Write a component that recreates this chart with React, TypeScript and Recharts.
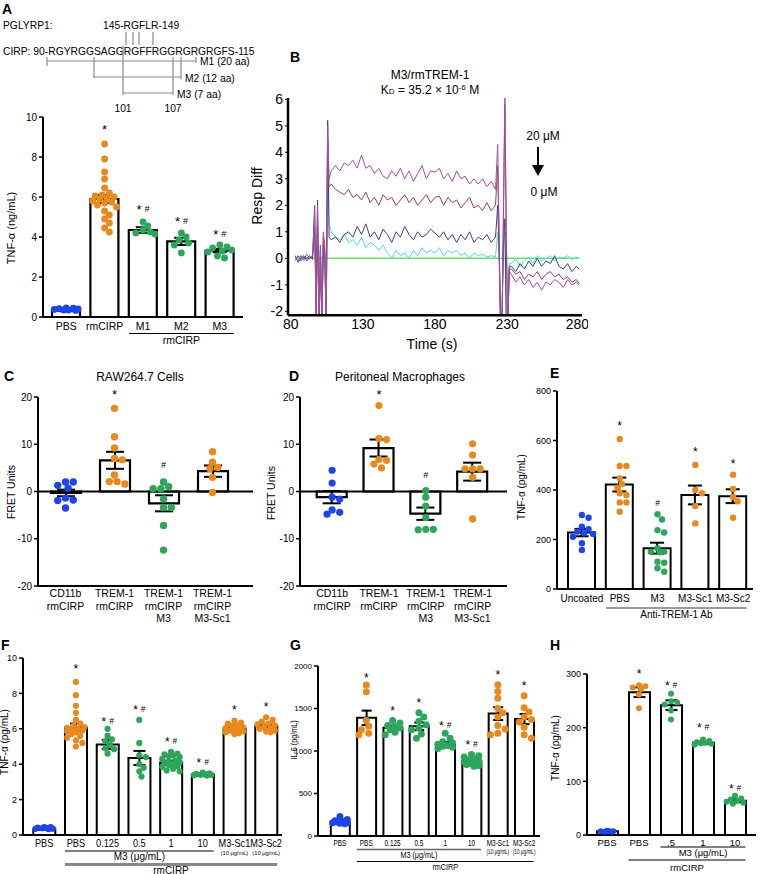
import React from "react";
import {
  ComposedChart,
  LineChart,
  Line,
  Bar,
  ErrorBar,
  Scatter,
  XAxis,
  YAxis,
  ReferenceLine,
  ReferenceDot,
} from "recharts";

const FF = "'Liberation Sans', Arial, Helvetica, sans-serif";
const BLUE = "#1f45e6";
const ORANGE = "#e8891e";
const GREEN = "#2ea55c";

// ---- A: TNF-a, peptides M1-M3 ----
const aCats = [["PBS"], ["rmCIRP"], ["M1"], ["M2"], ["M3"]];
const aMean = [0.32, 5.9, 4.35, 3.78, 3.32];
const aSem = [0.03, 0.2, 0.14, 0.18, 0.08];
const aPts = [
  [0.45, 0.42, 0.38, 0.35, 0.33, 0.35, 0.4, 0.44],
  [8.65, 7.9, 7.25, 6.9, 6.45, 6.2, 6.1, 6.05, 6.0, 5.95, 5.9, 5.8, 5.75, 5.7, 5.6, 5.5, 5.3, 5.1, 4.9, 4.7, 4.45, 4.25],
  [4.75, 4.55, 4.35, 4.25, 4.2, 4.15],
  [4.2, 4.0, 3.85, 3.7, 3.6, 3.2],
  [3.6, 3.5, 3.45, 3.35, 3.3, 3.25, 3.05, 2.95],
];
const aMarks: [number, number, string][] = [[1, 9.5, "*"], [2, 5.5, "*#"], [3, 4.9, "*#"], [4, 4.27, "*#"]];

// ---- B: SPR sensorgram ----
const bTime = [
  83, 85, 87, 89, 91, 93, 95,
  96.5, 97.5, 98.5, 99.5, 100.5, 101.5, 102.5, 103.5, 104.5, 105.5, 106.5,
  108, 111, 114, 117, 120, 123, 126, 129, 132, 135, 138, 141, 144, 147, 150, 153, 156, 159, 162, 165,
  168, 171, 174, 177, 180, 183, 186, 189, 192, 195, 198, 201, 204, 207, 210, 213, 216, 219, 222,
  223.5, 224.5, 225.5, 226.5, 227.5, 228.5, 229.5, 230.5, 231.5,
  233, 236, 239, 242, 245, 248, 251, 254, 257, 260, 263, 266, 269, 272, 275, 278, 280,
];
const bPurple = [
  0.0, -0.1, 0.1, -0.05, 0.15, 0.0, 0.1,
  1.8, -2.6, 2.0, -2.6, 0.5, -2.6, 1.0, 0.5, -2.6, 5.0, 3.0,
  3.3, 3.5, 3.3, 3.6, 3.5, 3.7, 3.4, 3.9, 3.4, 3.5, 3.2, 3.4, 3.1, 3.0, 3.3, 3.1, 3.4, 3.0, 3.3, 2.9,
  3.2, 3.5, 3.0, 3.3, 3.25, 3.4, 3.0, 3.2, 2.9, 3.3, 3.0, 3.1, 2.8, 3.0, 2.8, 3.0, 2.7, 2.9, 2.6,
  4.3, 1.0, -2.6, -2.6, 2.0, 6.2, 1.0, -2.6, -0.5,
  -0.6, -0.9, -0.7, -1.0, -0.8, -1.1, -0.9, -1.2, -0.9, -1.0, -0.8, -0.9, -1.1, -0.8, -1.0, -0.9, -1.0,
];
const bBrown = [
  -0.05, 0.1, -0.1, 0.05, 0.0, 0.1, -0.05,
  2.0, -2.6, 1.5, -2.6, 0.3, -2.6, 0.8, 0.3, -2.6, 4.5, 2.7,
  2.8, 2.6, 2.5, 2.4, 2.6, 2.3, 2.4, 2.2, 2.5, 2.1, 2.3, 2.0, 2.4, 2.2, 2.3, 2.0, 2.2, 2.4, 2.1, 2.3,
  2.0, 2.2, 2.4, 2.1, 2.3, 2.35, 2.0, 2.3, 2.1, 2.2, 1.9, 2.1, 2.3, 1.9, 2.0, 1.8, 2.1, 1.8, 2.0,
  3.5, 0.5, -2.6, -2.6, 1.5, 5.8, 0.5, -2.6, -0.4,
  -0.4, -0.6, -0.5, -0.8, -0.6, -0.7, -0.5, -0.8, -0.6, -0.5, -0.7, -0.6, -0.8, -0.7, -0.9, -0.8, -0.95,
];
const bNavy = [
  0.1, -0.15, 0.0, 0.1, -0.1, 0.05, 0.0,
  1.2, -1.5, 2.2, -2.6, 0.5, -2.6, 0.5, 0.2, -2.6, 5.2, 0.8,
  0.7, 0.8, 0.6, 0.9, 1.0, 0.8, 1.2, 0.9, 1.3, 0.8, 1.0, 0.7, 1.1, 0.9, 0.6, 1.0, 0.8, 1.2, 0.9, 0.7,
  1.0, 0.8, 0.9, 1.1, 0.95, 0.8, 1.0, 0.7, 0.9, 0.6, 0.9, 0.7, 1.0, 0.6, 0.8, 0.7, 0.9, 0.6, 0.8,
  2.0, 0.2, -2.6, -2.0, 0.5, 1.5, -2.6, -2.6, -0.3,
  -0.3, -0.5, -0.2, -0.4, -0.1, -0.3, 0.0, -0.3, -0.1, -0.2, 0.1, -0.3, -0.4, -0.2, -0.5, -0.3, -0.4,
];
const bCyan = [
  -0.1, 0.05, 0.1, -0.1, 0.05, -0.05, 0.1,
  0.8, -1.0, 1.5, -2.0, 0.3, -2.6, 0.5, 0.2, -2.6, 5.2, 1.3,
  1.0, 0.8, 0.7, 0.9, 0.6, 0.7, 0.5, 0.8, 0.4, 0.6, 0.5, 0.3, 0.5, 0.2, 0.0, 0.3, 0.1, 0.2, 0.0, 0.3,
  0.1, 0.4, 0.2, 0.3, 0.2, 0.4, 0.1, 0.3, 0.2, 0.3, 0.1, 0.2, 0.0, 0.2, 0.1, 0.15, 0.05, 0.1, 0.05,
  1.0, 0.0, -2.0, -2.6, 0.3, 1.0, -2.6, -2.6, -0.2,
  -0.2, 0.0, -0.3, -0.1, 0.05, -0.2, 0.1, -0.1, 0.0, 0.1, -0.1, 0.05, 0.0, 0.1, -0.05, 0.05, 0.0,
];
const bTicksX = [80, 130, 180, 230, 280];
const bTicksY = [-2, -1, 0, 1, 2, 3, 4, 5, 6];

// ---- C: FRET, RAW264.7 ----
const fretCats = [["CD11b", "rmCIRP"], ["TREM-1", "rmCIRP"], ["TREM-1", "rmCIRP", "M3"], ["TREM-1", "rmCIRP", "M3-Sc1"]];
const cMean = [-0.3, 6.6, -2.5, 4.3];
const cSem = [0.7, 1.8, 1.7, 1.2];
const cPts = [
  [2.0, 2.0, 1.3, 0.7, -1.4, -1.8, -1.9, -3.5],
  [17.6, 11.6, 9.2, 7.0, 6.7, 3.5, 2.1, 2.1, 1.6],
  [2.0, 1.0, 0.6, 0.6, -1.6, -3.4, -3.4, -7.2, -12.4],
  [8.4, 6.2, 5.1, 4.8, 3.0, -0.2],
];
const cMarks: [number, number, string][] = [[1, 21, "*"], [2, 5.7, "#"]];

// ---- D: FRET, peritoneal macrophages ----
const dMean = [-1.2, 9.2, -4.7, 4.2];
const dSem = [1.3, 1.8, 1.3, 1.9];
const dPts = [
  [4.5, 1.8, -1.2, -1.6, -3.9, -4.4, -4.8],
  [18.2, 11.2, 11.0, 6.8, 6.6, 5.8, 5.0],
  [0.2, -1.2, -3.1, -5.5, -8.0, -8.0, -8.1],
  [10.1, 7.7, 4.8, 4.8, 4.8, 3.0, -5.8],
];
const dMarks: [number, number, string][] = [[1, 21, "*"], [2, 3.4, "#"]];

// ---- E: anti-TREM-1 coated ----
const eCats = [["Uncoated"], ["PBS"], ["M3"], ["M3-Sc1"], ["M3-Sc2"]];
const eMean = [228, 422, 165, 380, 375];
const eSem = [15, 28, 22, 38, 28];
const ePts = [
  [299, 288, 252, 242, 232, 225, 222, 211, 185, 158],
  [606, 497, 497, 447, 424, 409, 387, 380, 350, 350, 312],
  [302, 281, 238, 228, 165, 151, 151, 148, 110, 106, 84, 70],
  [501, 400, 387, 335, 265],
  [462, 404, 372, 355, 288],
];
const eMarks: [number, number, string][] = [[1, 669, "*"], [2, 349, "#"], [3, 564, "*"], [4, 514, "*"]];

// ---- F: TNF-a dose ----
const doseCats = [["PBS"], ["PBS"], ["0.125"], ["0.5"], ["1"], ["10"], ["M3-Sc1", "(10 μg/mL)"], ["M3-Sc2", "(10 μg/mL)"]];
const fMean = [0.32, 6.08, 5.12, 4.35, 4.1, 3.42, 6.02, 6.16];
const fSem = [0.03, 0.22, 0.25, 0.4, 0.1, 0.03, 0.06, 0.07];
const fPts = [
  [0.45, 0.42, 0.38, 0.35, 0.33, 0.36, 0.4, 0.44],
  [8.65, 7.9, 7.3, 6.9, 6.5, 6.3, 6.2, 6.1, 6.05, 6.0, 5.95, 5.9, 5.85, 5.8, 5.7, 5.6, 5.5, 5.35, 5.2, 5.0],
  [6.0, 5.6, 5.4, 5.3, 5.1, 4.9, 4.85, 4.6],
  [6.5, 5.2, 4.5, 4.4, 4.0, 3.8, 3.6, 3.3],
  [4.7, 4.6, 4.55, 4.5, 4.45, 4.4, 4.3, 4.2, 4.15, 4.1, 4.05, 4.0, 3.95, 3.9, 3.85, 3.75, 3.65, 3.6],
  [3.52, 3.48, 3.45, 3.42, 3.4, 3.4, 3.38, 3.36],
  [6.45, 6.35, 6.3, 6.2, 6.15, 6.1, 6.05, 6.0, 5.95, 5.9, 5.85, 5.8, 5.75, 5.7],
  [6.65, 6.5, 6.4, 6.3, 6.25, 6.2, 6.1, 6.05, 6.0, 5.9, 5.85, 5.8],
];
const fMarks: [number, number, string][] = [[1, 9.5, "*"], [2, 6.55, "*#"], [3, 7.2, "*#"], [4, 5.4, "*#"], [5, 4.2, "*#"], [6, 7.2, "*"], [7, 7.4, "*"]];

// ---- G: IL-6 dose ----
const gMean = [160, 1390, 1275, 1290, 1085, 875, 1440, 1376];
const gSem = [12, 85, 22, 45, 20, 25, 75, 60];
const gPts = [
  [230, 195, 180, 170, 165, 160, 155, 150, 145],
  [1776, 1697, 1360, 1290, 1250, 1210, 1190],
  [1360, 1330, 1300, 1290, 1270, 1250, 1220, 1190],
  [1450, 1400, 1350, 1310, 1270, 1250, 1200, 1150],
  [1210, 1150, 1110, 1095, 1080, 1065, 1055, 1045, 1030],
  [960, 945, 930, 910, 895, 885, 875, 865, 855, 850, 840, 830, 820, 860],
  [1780, 1700, 1620, 1500, 1450, 1400, 1300, 1260, 1210, 1190],
  [1650, 1510, 1460, 1400, 1370, 1340, 1280, 1190, 1150],
];
const gMarks: [number, number, string][] = [[1, 1893, "*"], [2, 1501, "*"], [3, 1592, "*"], [4, 1325, "*#"], [5, 1098, "*#"], [6, 1925, "*"], [7, 1800, "*"]];

// ---- H: TNF-a, M3 doses ----
const hCats = [["PBS"], ["PBS"], [".5"], ["1"], ["10"]];
const hMean = [7, 266, 242, 172, 64];
const hSem = [1, 9, 9, 2, 3];
const hPts = [
  [8, 7, 7, 6, 6, 7],
  [279, 277, 275, 272, 262, 236],
  [263, 249, 247, 243, 232, 215],
  [178, 175, 173, 172, 171, 170, 168],
  [73, 68, 66, 64, 62, 60, 58],
];
const hMarks: [number, number, string][] = [[1, 305, "*"], [2, 283, "*#"], [3, 205, "*#"], [4, 90, "*#"]];

type Panel = {
  x0: number; x1: number; yTop: number; yBot: number; padL: number; padR: number;
  domain: [number, number]; ticks: number[];
  cats: string[][]; means: number[]; sems: number[]; pts: number[][]; colors: string[];
  marks: [number, number, string][];
  barSize: number; r: number; errW: number; sw: number; star: number;
  tickFont: number; catFont: number; subFont?: number; lab0: number; labGap: number;
  cond?: number; zero?: boolean;
};

const panels: Record<string, Panel> = {
  A: { x0: 43, x1: 243, yTop: 117, yBot: 317, padL: 4, padR: 4, domain: [0, 10], ticks: [0, 2, 4, 6, 8, 10],
    cats: aCats, means: aMean, sems: aSem, pts: aPts, colors: [BLUE, ORANGE, GREEN, GREEN, GREEN], marks: aMarks,
    barSize: 28, r: 3.4, errW: 7, sw: 2.2, star: 13, tickFont: 10, catFont: 10.5, lab0: 13, labGap: 12 },
  C: { x0: 38, x1: 253, yTop: 397, yBot: 586, padL: 3, padR: 16, domain: [-20, 20], ticks: [-20, -10, 0, 10, 20],
    cats: fretCats, means: cMean, sems: cSem, pts: cPts, colors: [BLUE, ORANGE, GREEN, ORANGE], marks: cMarks,
    barSize: 30, r: 3.7, errW: 9, sw: 2.2, star: 13, tickFont: 10, catFont: 10.5, lab0: 11, labGap: 12.5, zero: true },
  D: { x0: 300, x1: 507, yTop: 397, yBot: 586, padL: 8.7, padR: 11, domain: [-20, 20], ticks: [-20, -10, 0, 10, 20],
    cats: fretCats, means: dMean, sems: dSem, pts: dPts, colors: [BLUE, ORANGE, GREEN, ORANGE], marks: dMarks,
    barSize: 30, r: 3.6, errW: 9, sw: 2.2, star: 13, tickFont: 10, catFont: 10.5, lab0: 11, labGap: 12.5, zero: true },
  E: { x0: 557, x1: 753, yTop: 391, yBot: 589, padL: 6, padR: 1, domain: [0, 800], ticks: [0, 200, 400, 600, 800],
    cats: eCats, means: eMean, sems: eSem, pts: ePts, colors: [BLUE, ORANGE, GREEN, ORANGE, ORANGE], marks: eMarks,
    barSize: 27, r: 3.2, errW: 7, sw: 2, star: 12, tickFont: 9, catFont: 10, lab0: 13, labGap: 10 },
  F: { x0: 23, x1: 282, yTop: 658, yBot: 835, padL: 5.3, padR: 0, domain: [0, 10], ticks: [0, 2, 4, 6, 8, 10],
    cats: doseCats, means: fMean, sems: fSem, pts: fPts, colors: [BLUE, ORANGE, GREEN, GREEN, GREEN, GREEN, ORANGE, ORANGE], marks: fMarks,
    barSize: 22, r: 3.1, errW: 6, sw: 2, star: 12, tickFont: 9, catFont: 10, subFont: 6.2, lab0: 12, labGap: 8, cond: 0.92 },
  G: { x0: 318, x1: 540, yTop: 666, yBot: 836, padL: 8.8, padR: 2.7, domain: [0, 2000], ticks: [0, 500, 1000, 1500, 2000],
    cats: doseCats, means: gMean, sems: gSem, pts: gPts, colors: [BLUE, ORANGE, GREEN, GREEN, GREEN, GREEN, ORANGE, ORANGE], marks: gMarks,
    barSize: 19, r: 3.5, errW: 5, sw: 2, star: 12, tickFont: 8, catFont: 9, subFont: 6.5, lab0: 10, labGap: 8, cond: 0.72 },
  H: { x0: 587, x1: 756, yTop: 674, yBot: 835, padL: 4, padR: 5, domain: [0, 300], ticks: [0, 100, 200, 300],
    cats: hCats, means: hMean, sems: hSem, pts: hPts, colors: [BLUE, ORANGE, GREEN, GREEN, GREEN], marks: hMarks,
    barSize: 21, r: 3, errW: 6, sw: 2, star: 12, tickFont: 9, catFont: 9.5, lab0: 11, labGap: 10 },
};

// beeswarm-style horizontal offsets kept inside the bar width
function swarm(vals: number[], ppu: number, r: number, maxDx: number): number[] {
  const order = vals.map((_, i) => i).sort((a, b) => vals[b] - vals[a]);
  const placed: [number, number][] = [];
  const out = vals.map(() => 0);
  const minD = r * 1.8;
  const step = r * 0.7;
  const cands = [0];
  for (let s = 1; s * step <= maxDx; s++) cands.push(s * step, -s * step);
  for (const i of order) {
    const y = vals[i] * ppu;
    let best = 0;
    let bestD = -1;
    for (const dx of cands) {
      const d = placed.reduce((m, [px, py]) => Math.min(m, Math.hypot(px - dx, py - y)), Infinity);
      if (d >= minD) { best = dx; break; }
      if (d > bestD + 0.01) { bestD = d; best = dx; }
    }
    out[i] = best;
    placed.push([best, y]);
  }
  return out;
}

function Mark({ cx, cy, text, size }: { cx: number; cy: number; text: string; size: number }) {
  const star = text.includes("*");
  const hash = text.includes("#");
  if (star && hash) {
    return (
      <text x={cx} y={cy + size * 0.55} textAnchor="middle" fontFamily={FF} fill="#000">
        <tspan fontSize={size}>*</tspan>
        <tspan fontSize={size * 0.68} fontStyle="italic" dx={3} dy={-2}>#</tspan>
      </text>
    );
  }
  if (star) {
    return <text x={cx} y={cy + size * 0.55} textAnchor="middle" fontFamily={FF} fontSize={size} fill="#000">*</text>;
  }
  return <text x={cx} y={cy + 3} textAnchor="middle" fontFamily={FF} fontSize={size * 0.68} fontStyle="italic" fill="#000">#</text>;
}

const band = (p: Panel) => (p.x1 - p.x0 - p.padL - p.padR) / p.means.length;
const center = (p: Panel, i: number) => p.x0 + p.padL + band(p) * (i + 0.5);

function DotBarPanel({ p }: { p: Panel }) {
  const yW = Math.min(36, p.x0);
  const mt = 14;
  const mr = 4;
  const xh = 48;
  const plotH = p.yBot - p.yTop;
  const w = yW + (p.x1 - p.x0) + mr;
  const h = mt + plotH + xh;
  const ppu = plotH / (p.domain[1] - p.domain[0]);
  const offs = p.pts.map((v) => swarm(v, ppu, p.r, p.barSize / 2 - p.r * 0.6));
  const rows = p.means.map((m, i) => ({ key: String(i), mean: m, sem: p.sems[i] }));
  const dots = p.pts.flatMap((vals, g) => vals.map((v, k) => ({ key: String(g), v, g, k })));
  const axisY = mt + plotH;
  const sx = p.cond || 1;

  const tick = (t: any) => {
    const lines = p.cats[Number(t.payload.value)] || [];
    return (
      <g transform={`translate(${t.x},0) scale(${sx},1)`}>
        <text textAnchor="middle" fontFamily={FF} fill="#000">
          {lines.map((l, j) => (
            <tspan key={j} x={0} y={axisY + p.lab0 + j * p.labGap} fontSize={j > 0 && p.subFont ? p.subFont : p.catFont}>
              {l}
            </tspan>
          ))}
        </text>
      </g>
    );
  };

  return (
    <div style={{ position: "absolute", left: p.x0 - yW, top: p.yTop - mt }}>
      <ComposedChart width={w} height={h} data={rows} margin={{ top: mt, right: mr, bottom: 0, left: 0 }}>
        <XAxis
          dataKey="key"
          type="category"
          allowDuplicatedCategory={false}
          height={xh}
          interval={0}
          padding={{ left: p.padL, right: p.padR }}
          tickLine={false}
          axisLine={{ stroke: "#000", strokeWidth: 2 }}
          tick={tick}
        />
        <YAxis
          type="number"
          width={yW}
          domain={p.domain}
          ticks={p.ticks}
          interval={0}
          allowDataOverflow
          axisLine={{ stroke: "#000", strokeWidth: 2 }}
          tickLine={{ stroke: "#000", strokeWidth: 1.5 }}
          tickSize={4}
          tickMargin={2}
          tick={{ fontSize: p.tickFont, fill: "#000", fontFamily: FF }}
        />
        {p.zero && <ReferenceLine y={0} stroke="#000" strokeWidth={2} />}
        <Scatter
          data={dots}
          dataKey="v"
          isAnimationActive={false}
          shape={(s: any) => (
            <circle cx={s.cx + offs[s.payload.g][s.payload.k]} cy={s.cy} r={p.r} fill={p.colors[s.payload.g]} />
          )}
        />
        <Bar dataKey="mean" barSize={p.barSize} fill="none" stroke="#000" strokeWidth={p.sw} isAnimationActive={false}>
          <ErrorBar dataKey="sem" width={p.errW} stroke="#000" strokeWidth={2} />
        </Bar>
        {p.marks.map(([i, v, txt], j) => (
          <ReferenceDot
            key={j}
            x={String(i)}
            y={v}
            r={0}
            ifOverflow="visible"
            shape={(d: any) => <Mark cx={d.cx} cy={d.cy} text={txt} size={p.star} />}
          />
        ))}
      </ComposedChart>
    </div>
  );
}

function SprPanel() {
  const rows = bTime.map((t, i) => ({ t, p: bPurple[i], b: bBrown[i], n: bNavy[i], c: bCyan[i] }));
  const x0 = 288, x1 = 582, yTop = 97.7, yBot = 315;
  const yW = 30, mt = 10, mr = 6, xh = 26;
  return (
    <div style={{ position: "absolute", left: x0 - yW, top: yTop - mt }}>
      <LineChart width={yW + x1 - x0 + mr} height={mt + yBot - yTop + xh} data={rows} margin={{ top: mt, right: mr, bottom: 0, left: 0 }}>
        <XAxis
          dataKey="t"
          type="number"
          domain={[78, 282]}
          ticks={bTicksX}
          allowDataOverflow
          height={xh}
          tickLine={false}
          tickSize={2}
          axisLine={{ stroke: "#000", strokeWidth: 2.5 }}
          tick={{ fontSize: 14, fill: "#000", fontFamily: FF }}
        />
        <YAxis
          type="number"
          width={yW}
          domain={[-2.15, 6.05]}
          ticks={bTicksY}
          interval={0}
          allowDataOverflow
          tickSize={3}
          tickMargin={2}
          axisLine={{ stroke: "#000", strokeWidth: 2.5 }}
          tickLine={{ stroke: "#000" }}
          tick={{ fontSize: 14, fill: "#000", fontFamily: FF }}
        />
        <ReferenceLine segment={[{ x: 84, y: 0 }, { x: 280, y: 0 }]} stroke="#6ee06e" strokeWidth={1.5} />
        <Line dataKey="c" stroke="#55d8e6" strokeWidth={1} dot={false} type="linear" isAnimationActive={false} />
        <Line dataKey="n" stroke="#3a3f95" strokeWidth={1} dot={false} type="linear" isAnimationActive={false} />
        <Line dataKey="b" stroke="#9a4050" strokeWidth={1} dot={false} type="linear" isAnimationActive={false} />
        <Line dataKey="p" stroke="#a34fa6" strokeWidth={1} dot={false} type="linear" isAnimationActive={false} />
      </LineChart>
    </div>
  );
}

function YLabel({ x, y, text, size, sx = 1 }: { x: number; y: number; text: string; size: number; sx?: number }) {
  return (
    <text transform={`translate(${x},${y}) rotate(-90) scale(${sx},1)`} textAnchor="middle" dominantBaseline="middle" fontSize={size} fontFamily={FF} fill="#000">
      {text}
    </text>
  );
}

function Group({ p, from, to, y, color, lw, text, ty, size, sx = 1 }: any) {
  const a = center(p, from) - p.barSize / 2;
  const b = center(p, to) + p.barSize / 2;
  return (
    <g>
      <line x1={a} x2={b} y1={y} y2={y} stroke={color} strokeWidth={lw} />
      <g transform={`translate(${(a + b) / 2},0) scale(${sx},1)`}>
        <text x={0} y={ty} textAnchor="middle" fontSize={size} fontFamily={FF} fill="#000">{text}</text>
      </g>
    </g>
  );
}

function Overlay() {
  const grey = "#8a8a8a";
  const letter = (t: string, x: number, y: number) => (
    <text x={x} y={y} fontSize={14} fontWeight="bold" fontFamily={FF} fill="#000">{t}</text>
  );
  return (
    <svg width={760} height={874} style={{ position: "absolute", left: 0, top: 0, pointerEvents: "none" }}>
      {/* A: sequence diagram */}
      {letter("A", 2, 14)}
      <g fontFamily={FF} fontSize={10.3} fill="#000">
        <text x={3} y={29}>PGLYRP1:</text>
        <text x={103} y={29}>145-RGFLR-149</text>
        <text x={3} y={55}>CIRP: 90-RGYRGGSAGGRGFFRGGRGRGRGFS-115</text>
        <text x={200} y={65}>M1 (20 aa)</text>
        <text x={185} y={82}>M2 (12 aa)</text>
        <text x={177} y={98}>M3 (7 aa)</text>
        <text x={123} y={112} textAnchor="middle">101</text>
        <text x={173} y={112} textAnchor="middle">107</text>
      </g>
      <g stroke={grey} strokeWidth={1.2}>
        {[126, 133, 139, 153].map((x) => <line key={x} x1={x} x2={x} y1={32} y2={45} />)}
        <line x1={47} x2={196} y1={61} y2={61} />
        <line x1={94} x2={181} y1={77} y2={77} />
        <line x1={123} x2={173} y1={93} y2={93} />
        <line x1={47} x2={47} y1={57} y2={66} />
        <line x1={94} x2={94} y1={57} y2={78} />
        <line x1={123} x2={123} y1={46} y2={95} />
        <line x1={173} x2={173} y1={57} y2={95} />
        <line x1={181} x2={181} y1={57} y2={79} />
        <line x1={196} x2={196} y1={57} y2={63} />
      </g>
      <YLabel x={12.5} y={228} text="TNF-α (ng/mL)" size={11} />
      <Group p={panels.A} from={2} to={4} y={333.5} color="#000" lw={1} text="rmCIRP" ty={344} size={10.5} />

      {/* B */}
      {letter("B", 290, 62)}
      <text x={430} y={79} textAnchor="middle" fontSize={12} fontFamily={FF}>M3/rmTREM-1</text>
      <text x={430} y={94} textAnchor="middle" fontSize={12} fontFamily={FF}>
        K<tspan fontSize={8}>D</tspan> = 35.2 × 10<tspan fontSize={8} dy={-4}>-6</tspan><tspan dy={4}> M</tspan>
      </text>
      <YLabel x={258} y={196} text="Resp Diff" size={14} />
      <text x={432} y={349} textAnchor="middle" fontSize={14} fontFamily={FF}>Time (s)</text>
      <text x={543} y={140} textAnchor="middle" fontSize={12} fontFamily={FF}>20 μM</text>
      <line x1={538} x2={538} y1={147} y2={167} stroke="#000" strokeWidth={2} />
      <polygon points="532,165 544,165 538,176" fill="#000" />
      <text x={544} y={196} textAnchor="middle" fontSize={12} fontFamily={FF}>0 μM</text>

      {/* C, D, E */}
      {letter("C", 4, 381)}
      <text x={140} y={381} textAnchor="middle" fontSize={12} fontFamily={FF}>RAW264.7 Cells</text>
      <YLabel x={12} y={492} text="FRET Units" size={10.5} />
      {letter("D", 289, 381)}
      <text x={400} y={381} textAnchor="middle" fontSize={12} fontFamily={FF}>Peritoneal Macrophages</text>
      <YLabel x={272} y={493} text="FRET Units" size={10.5} />
      {letter("E", 550, 378)}
      <YLabel x={522} y={487} text="TNF-α (pg/mL)" size={10} />
      <Group p={panels.E} from={1} to={4} y={608} color="#333" lw={1} text="Anti-TREM-1 Ab" ty={617.5} size={10} />

      {/* F, G, H */}
      {letter("F", 1, 650)}
      <YLabel x={5} y={742} text="TNF-α (pg/mL)" size={10} />
      <Group p={panels.F} from={1} to={5} y={851} color="#555" lw={1.5} text="M3 (μg/mL)" ty={860} size={10} />
      <Group p={panels.F} from={1} to={7} y={864.5} color="#888" lw={3} text="rmCIRP" ty={873.5} size={10} />
      {letter("G", 290, 650)}
      <YLabel x={295} y={740} text="IL-6 (pg/mL)" size={9} sx={0.8} />
      <Group p={panels.G} from={1} to={5} y={849.5} color="#666" lw={1.5} text="M3 (μg/mL)" ty={858} size={9} sx={0.8} />
      <Group p={panels.G} from={1} to={7} y={861.5} color="#000" lw={1} text="rmCIRP" ty={870.5} size={9} sx={0.8} />
      {letter("H", 550, 650)}
      <YLabel x={556} y={748} text="TNF-α (pg/mL)" size={10} />
      <Group p={panels.H} from={2} to={4} y={847} color="#000" lw={1} text="M3 (μg/mL)" ty={855.5} size={9.5} />
      <Group p={panels.H} from={1} to={4} y={860} color="#000" lw={1} text="rmCIRP" ty={871} size={9.5} />
    </svg>
  );
}

export default function App() {
  return (
    <div style={{ position: "absolute", left: 0, top: 0, width: 760, height: 874, background: "#fff", fontFamily: FF, overflow: "hidden" }}>
      <DotBarPanel p={panels.A} />
      <SprPanel />
      <DotBarPanel p={panels.C} />
      <DotBarPanel p={panels.D} />
      <DotBarPanel p={panels.E} />
      <DotBarPanel p={panels.F} />
      <DotBarPanel p={panels.G} />
      <DotBarPanel p={panels.H} />
      <Overlay />
    </div>
  );
}
